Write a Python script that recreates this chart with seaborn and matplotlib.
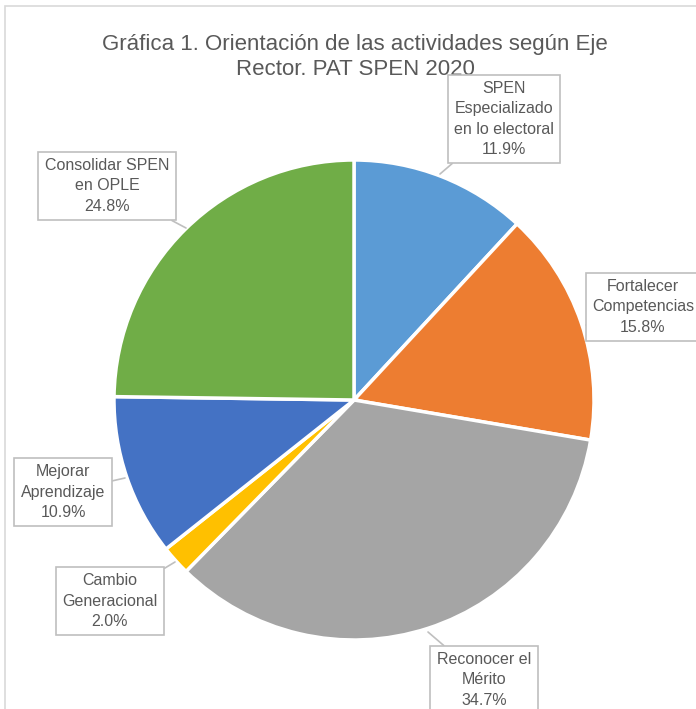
import matplotlib
matplotlib.use("Agg")
import matplotlib.pyplot as plt
import seaborn as sns
from matplotlib.patches import Rectangle

# datos de la grafica
categorias = ["SPEN\nEspecializado\nen lo electoral", "Fortalecer\nCompetencias",
              "Reconocer el\nMérito", "Cambio\nGeneracional", "Mejorar\nAprendizaje",
              "Consolidar SPEN\nen OPLE"]
porcentajes = [11.9, 15.8, 34.7, 2.0, 10.9, 24.8]
colores = ["#5B9BD5", "#ED7D31", "#A5A5A5", "#FFC000", "#4472C4", "#70AD47"]

sns.set_style("white")
plt.rcParams['font.family'] = ['Liberation Sans', 'DejaVu Sans']

W, H = 696, 709
fig = plt.figure(figsize=(W / 100, H / 100), dpi=100)
ax = fig.add_axes([0, 0, 1, 1])

# marco del area del grafico
fig.patches.append(Rectangle((5 / W, -0.1), 1.2, (H - 6) / H + 0.1, transform=fig.transFigure,
                             fill=False, edgecolor="#D9D9D9", linewidth=1.2))

cx, cy, r = 354, H - 400, 240
ax.pie(porcentajes, colors=colores, startangle=90, counterclock=False,
       center=(cx, cy), radius=r, frame=True,
       wedgeprops=dict(edgecolor="white", linewidth=2.5))
ax.set_xlim(0, W)
ax.set_ylim(0, H)
ax.set_aspect("equal")
ax.axis("off")

ax.text(355, H - 57, "Gráfica 1. Orientación de las actividades según Eje\nRector. PAT SPEN 2020",
        ha="center", va="center", fontsize=16, color="#595959", linespacing=1.3)

# posiciones de las etiquetas (centro de caja) y punta de la linea guia
cajas = [(504, 119), (643, 307), (484, 680), (110, 601), (63, 492), (107, 186)]
puntas = [(440, 174), (586, 325), (428, 632), (175, 562), (125, 478), (186, 228)]

for cat, pct, (bx, by), (px, py) in zip(categorias, porcentajes, cajas, puntas):
    ax.annotate(f"{cat}\n{pct:.1f}%", xy=(px, H - py), xytext=(bx, H - by),
                ha="center", va="center", fontsize=11.5, color="#595959", linespacing=1.42,
                bbox=dict(boxstyle="square,pad=0.4", facecolor="white", edgecolor="#BFBFBF", linewidth=1.2),
                arrowprops=dict(arrowstyle="-", color="#BFBFBF", linewidth=1.2, shrinkA=0, shrinkB=0))

fig.savefig("out.png", dpi=100)
